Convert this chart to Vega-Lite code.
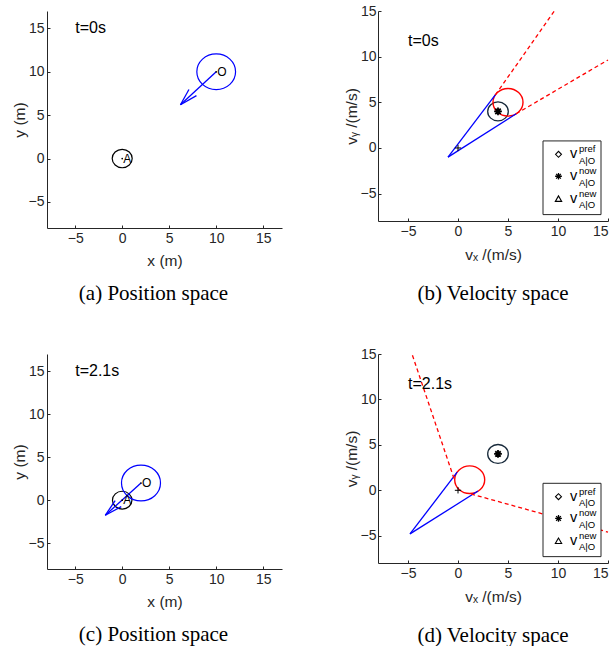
{
  "$schema": "https://vega.github.io/schema/vega-lite/v6.json",
  "padding": {"left": 12, "top": 4, "right": 0, "bottom": 0},
  "columns": 2,
  "spacing": {"row": 126, "column": 96},
  "bounds": "flush",
  "config": {
    "view": {"stroke": null},
    "font": "Liberation Sans",
    "axis": {"grid": false, "domainColor": "#262626", "domainWidth": 1, "tickColor": "#262626", "tickSize": -3, "labelColor": "#262626", "labelFontSize": 14, "labelFont": "Liberation Sans", "titleFont": "Liberation Sans", "titleFontSize": 15.5, "titleFontWeight": "normal", "titleColor": "#262626", "labelPadding": 6},
    "axisY": {"titlePadding": 1},
    "axisX": {"titlePadding": 8},
    "title": {"font": "Liberation Serif", "fontSize": 21, "fontWeight": "normal", "color": "#000000", "orient": "bottom", "anchor": "middle"}
  },
  "concat": [
    {
      "width": 235, "height": 217,
      "title": {"text": "(a)  Position space", "offset": 14, "dx": -11},
      "layer": [
        {
          "data": {"values": [{"agent": "A", "x": 0, "y": 0}]},
          "mark": {"type": "point", "shape": "M1,0C1,0.508 0.552,0.92 0,0.92C-0.552,0.92 -1,0.508 -1,0C-1,-0.508 -0.552,-0.92 0,-0.92C0.552,-0.92 1,-0.508 1,0Z", "filled": false, "strokeWidth": 1.2, "opacity": 1, "color": "#000000", "size": 400},
          "encoding": {
            "x": {"field": "x", "type": "quantitative", "scale": {"domain": [-8, 17], "nice": false, "zero": false}, "axis": {"values": [-5, 0, 5, 10, 15], "title": "x (m)"}},
            "y": {"field": "y", "type": "quantitative", "scale": {"domain": [-8, 17], "nice": false, "zero": false}, "axis": {"values": [-5, 0, 5, 10, 15], "title": "y (m)"}}
          }
        },
        {
          "data": {"values": [{"agent": "O", "x": 10, "y": 10}]},
          "mark": {"type": "point", "shape": "M1,0C1,0.508 0.552,0.92 0,0.92C-0.552,0.92 -1,0.508 -1,0C-1,-0.508 -0.552,-0.92 0,-0.92C0.552,-0.92 1,-0.508 1,0Z", "filled": false, "strokeWidth": 1.2, "opacity": 1, "color": "#0000ff", "size": 1500},
          "encoding": {"x": {"field": "x", "type": "quantitative"}, "y": {"field": "y", "type": "quantitative"}}
        },
        {
          "data": {"values": [{"part": "shaft", "x": 10, "y": 10, "x2": 6.2, "y2": 6.2}, {"part": "barb", "x": 6.2, "y": 6.2, "x2": 7.9, "y2": 7.25}, {"part": "barb", "x": 6.2, "y": 6.2, "x2": 7.1, "y2": 7.95}]},
          "mark": {"type": "rule", "color": "#0000ff", "strokeWidth": 1.3},
          "encoding": {"x": {"field": "x", "type": "quantitative"}, "y": {"field": "y", "type": "quantitative"}, "x2": {"field": "x2"}, "y2": {"field": "y2"}}
        },
        {
          "data": {"values": [{"agent": "A", "x": 0, "y": 0}, {"agent": "O", "x": 10, "y": 10}]},
          "layer": [
            {"mark": {"type": "point", "shape": "circle", "filled": true, "size": 3, "color": "#000000", "opacity": 1},
             "encoding": {"x": {"field": "x", "type": "quantitative"}, "y": {"field": "y", "type": "quantitative"}}},
            {"mark": {"type": "text", "align": "left", "baseline": "middle", "fontSize": 12, "dx": 1, "color": "#000000"},
             "encoding": {"x": {"field": "x", "type": "quantitative"}, "y": {"field": "y", "type": "quantitative"}, "text": {"field": "agent"}}}
          ]
        },
        {
          "data": {"values": [{"label": "t=0s", "x": -5, "y": 15}]},
          "mark": {"type": "text", "align": "left", "baseline": "middle", "fontSize": 16, "color": "#000000"},
          "encoding": {"x": {"field": "x", "type": "quantitative"}, "y": {"field": "y", "type": "quantitative"}, "text": {"field": "label"}}
        }
      ]
    },
    {
      "width": 230, "height": 210,
      "title": {"text": "(b)  Velocity space", "offset": 20},
      "layer": [
        {
          "data": {"values": [{"circle": "A", "x": 4, "y": 4}]},
          "mark": {"type": "point", "shape": "M1,0C1,0.508 0.552,0.92 0,0.92C-0.552,0.92 -1,0.508 -1,0C-1,-0.508 -0.552,-0.92 0,-0.92C0.552,-0.92 1,-0.508 1,0Z", "filled": false, "strokeWidth": 1.3, "opacity": 1, "color": "#17293a", "size": 424},
          "encoding": {
            "x": {"field": "x", "type": "quantitative", "scale": {"domain": [-8, 15], "nice": false, "zero": false}, "axis": {"values": [-5, 0, 5, 10, 15], "title": "vₓ /(m/s)", "titlePadding": 9}},
            "y": {"field": "y", "type": "quantitative", "scale": {"domain": [-8, 15], "nice": false, "zero": false}, "axis": {"values": [-5, 0, 5, 10, 15], "title": "vᵧ /(m/s)", "labelPadding": 5, "titlePadding": 1}}
          }
        },
        {
          "data": {"values": [{"circle": "VO", "x": 5, "y": 5}]},
          "mark": {"type": "point", "shape": "M1,0C1,0.508 0.552,0.92 0,0.92C-0.552,0.92 -1,0.508 -1,0C-1,-0.508 -0.552,-0.92 0,-0.92C0.552,-0.92 1,-0.508 1,0Z", "filled": false, "strokeWidth": 1.4, "opacity": 1, "color": "#ff0000", "size": 900},
          "encoding": {"x": {"field": "x", "type": "quantitative"}, "y": {"field": "y", "type": "quantitative"}}
        },
        {
          "data": {"values": [{"x": -1, "y": -1, "x2": 3.77, "y2": 5.86}, {"x": -1, "y": -1, "x2": 5.86, "y2": 3.77}]},
          "mark": {"type": "rule", "color": "#0000ff", "strokeWidth": 1.3},
          "encoding": {"x": {"field": "x", "type": "quantitative"}, "y": {"field": "y", "type": "quantitative"}, "x2": {"field": "x2"}, "y2": {"field": "y2"}}
        },
        {
          "data": {"values": [{"x": 3.74, "y": 5.81, "x2": 9.64, "y2": 15}, {"x": 5.81, "y": 3.74, "x2": 15, "y2": 9.64}]},
          "mark": {"type": "rule", "color": "#ff0000", "strokeWidth": 1.3, "strokeDash": [4, 3]},
          "encoding": {"x": {"field": "x", "type": "quantitative"}, "y": {"field": "y", "type": "quantitative"}, "x2": {"field": "x2"}, "y2": {"field": "y2"}}
        },
        {
          "data": {"values": [{"v": "now", "x": 4, "y": 4}]},
          "mark": {"type": "point", "shape": "M-1,0L1,0M0,-1L0,1M-0.7,-0.7L0.7,0.7M-0.7,0.7L0.7,-0.7", "filled": false, "size": 60, "strokeWidth": 1.8, "color": "#000000", "opacity": 1},
          "encoding": {"x": {"field": "x", "type": "quantitative"}, "y": {"field": "y", "type": "quantitative"}}
        },
        {
          "data": {"values": [{"v": "origin", "x": 0, "y": 0}]},
          "mark": {"type": "point", "shape": "M-1,0L1,0M0,-1L0,1", "filled": false, "size": 40, "strokeWidth": 1, "color": "#000000", "opacity": 1},
          "encoding": {"x": {"field": "x", "type": "quantitative"}, "y": {"field": "y", "type": "quantitative"}}
        },
        {
          "data": {"values": [{"label": "t=0s", "x": -5, "y": 11.7}]},
          "mark": {"type": "text", "align": "left", "baseline": "middle", "fontSize": 16, "color": "#000000"},
          "encoding": {"x": {"field": "x", "type": "quantitative"}, "y": {"field": "y", "type": "quantitative"}, "text": {"field": "label"}}
        },
        {
          "data": {"values": [{"x": 8.5, "x2": 14.3, "y": 0.77, "y2": -7.3}]},
          "mark": {"type": "rect", "fill": "#ffffff", "stroke": "#262626", "strokeWidth": 1},
          "encoding": {"x": {"field": "x", "type": "quantitative"}, "x2": {"field": "x2"}, "y": {"field": "y", "type": "quantitative"}, "y2": {"field": "y2"}}
        },
        {
          "data": {"values": [{"key": "pref", "y": -0.7}, {"key": "now", "y": -3.1}, {"key": "new", "y": -5.55}]},
          "layer": [
            {"transform": [{"filter": "datum.key == 'pref'"}],
             "mark": {"type": "point", "shape": "diamond", "filled": false, "size": 35, "strokeWidth": 1.1, "color": "#000000", "opacity": 1},
             "encoding": {"x": {"datum": 10.05, "type": "quantitative"}, "y": {"field": "y", "type": "quantitative"}}},
            {"transform": [{"filter": "datum.key == 'now'"}],
             "mark": {"type": "point", "shape": "M-1,0L1,0M0,-1L0,1M-0.7,-0.7L0.7,0.7M-0.7,0.7L0.7,-0.7", "filled": false, "size": 45, "strokeWidth": 1.3, "color": "#000000", "opacity": 1},
             "encoding": {"x": {"datum": 10.05, "type": "quantitative"}, "y": {"field": "y", "type": "quantitative"}}},
            {"transform": [{"filter": "datum.key == 'new'"}],
             "mark": {"type": "point", "shape": "triangle-up", "filled": false, "size": 40, "strokeWidth": 1.1, "color": "#000000", "opacity": 1},
             "encoding": {"x": {"datum": 10.05, "type": "quantitative"}, "y": {"field": "y", "type": "quantitative"}}},
            {"mark": {"type": "text", "text": "v", "align": "left", "baseline": "middle", "fontSize": 14.5, "color": "#000000"},
             "encoding": {"x": {"datum": 11.2, "type": "quantitative"}, "y": {"field": "y", "type": "quantitative"}}},
            {"mark": {"type": "text", "align": "left", "baseline": "middle", "fontSize": 9.5, "dy": -5, "color": "#000000"},
             "encoding": {"x": {"datum": 12.1, "type": "quantitative"}, "y": {"field": "y", "type": "quantitative"}, "text": {"field": "key"}}},
            {"mark": {"type": "text", "text": "A|O", "align": "left", "baseline": "middle", "fontSize": 9.5, "dy": 6.5, "color": "#000000"},
             "encoding": {"x": {"datum": 12.1, "type": "quantitative"}, "y": {"field": "y", "type": "quantitative"}}}
          ]
        }
      ]
    },
    {
      "width": 235, "height": 215,
      "title": {"text": "(c)  Position space", "offset": 14, "dx": -11},
      "layer": [
        {
          "data": {"values": [{"agent": "A", "x": 0, "y": 0}]},
          "mark": {"type": "point", "shape": "M1,0C1,0.508 0.552,0.92 0,0.92C-0.552,0.92 -1,0.508 -1,0C-1,-0.508 -0.552,-0.92 0,-0.92C0.552,-0.92 1,-0.508 1,0Z", "filled": false, "strokeWidth": 1.2, "opacity": 1, "color": "#000000", "size": 380},
          "encoding": {
            "x": {"field": "x", "type": "quantitative", "scale": {"domain": [-8, 17], "nice": false, "zero": false}, "axis": {"values": [-5, 0, 5, 10, 15], "title": "x (m)"}},
            "y": {"field": "y", "type": "quantitative", "scale": {"domain": [-8, 17], "nice": false, "zero": false}, "axis": {"values": [-5, 0, 5, 10, 15], "title": "y (m)"}}
          }
        },
        {
          "data": {"values": [{"agent": "O", "x": 2, "y": 2}]},
          "mark": {"type": "point", "shape": "M1,0C1,0.508 0.552,0.92 0,0.92C-0.552,0.92 -1,0.508 -1,0C-1,-0.508 -0.552,-0.92 0,-0.92C0.552,-0.92 1,-0.508 1,0Z", "filled": false, "strokeWidth": 1.2, "opacity": 1, "color": "#0000ff", "size": 1521},
          "encoding": {"x": {"field": "x", "type": "quantitative"}, "y": {"field": "y", "type": "quantitative"}}
        },
        {
          "data": {"values": [{"part": "shaft", "x": 2, "y": 2, "x2": -1.8, "y2": -1.75}, {"part": "barb", "x": -1.8, "y": -1.75, "x2": -0.75, "y2": -0.05}, {"part": "barb", "x": -1.8, "y": -1.75, "x2": -0.1, "y2": -0.75}]},
          "mark": {"type": "rule", "color": "#0000ff", "strokeWidth": 1.3},
          "encoding": {"x": {"field": "x", "type": "quantitative"}, "y": {"field": "y", "type": "quantitative"}, "x2": {"field": "x2"}, "y2": {"field": "y2"}}
        },
        {
          "data": {"values": [{"agent": "A", "x": 0, "y": 0}, {"agent": "O", "x": 2, "y": 2}]},
          "layer": [
            {"mark": {"type": "point", "shape": "circle", "filled": true, "size": 3, "color": "#000000", "opacity": 1},
             "encoding": {"x": {"field": "x", "type": "quantitative"}, "y": {"field": "y", "type": "quantitative"}}},
            {"mark": {"type": "text", "align": "left", "baseline": "middle", "fontSize": 12, "dx": 1, "color": "#000000"},
             "encoding": {"x": {"field": "x", "type": "quantitative"}, "y": {"field": "y", "type": "quantitative"}, "text": {"field": "agent"}}}
          ]
        },
        {
          "data": {"values": [{"label": "t=2.1s", "x": -5, "y": 15}]},
          "mark": {"type": "text", "align": "left", "baseline": "middle", "fontSize": 16, "color": "#000000"},
          "encoding": {"x": {"field": "x", "type": "quantitative"}, "y": {"field": "y", "type": "quantitative"}, "text": {"field": "label"}}
        }
      ]
    },
    {
      "width": 230, "height": 209,
      "title": {"text": "(d)  Velocity space", "offset": 20},
      "layer": [
        {
          "data": {"values": [{"circle": "A", "x": 4, "y": 4}]},
          "mark": {"type": "point", "shape": "M1,0C1,0.508 0.552,0.92 0,0.92C-0.552,0.92 -1,0.508 -1,0C-1,-0.508 -0.552,-0.92 0,-0.92C0.552,-0.92 1,-0.508 1,0Z", "filled": false, "strokeWidth": 1.3, "opacity": 1, "color": "#17293a", "size": 424},
          "encoding": {
            "x": {"field": "x", "type": "quantitative", "scale": {"domain": [-8, 15], "nice": false, "zero": false}, "axis": {"values": [-5, 0, 5, 10, 15], "title": "vₓ /(m/s)", "titlePadding": 9}},
            "y": {"field": "y", "type": "quantitative", "scale": {"domain": [-8, 15], "nice": false, "zero": false}, "axis": {"values": [-5, 0, 5, 10, 15], "title": "vᵧ /(m/s)", "labelPadding": 5, "titlePadding": 1}}
          }
        },
        {
          "data": {"values": [{"circle": "VO", "x": 1.17, "y": 1.17}]},
          "mark": {"type": "point", "shape": "M1,0C1,0.508 0.552,0.92 0,0.92C-0.552,0.92 -1,0.508 -1,0C-1,-0.508 -0.552,-0.92 0,-0.92C0.552,-0.92 1,-0.508 1,0Z", "filled": false, "strokeWidth": 1.4, "opacity": 1, "color": "#ff0000", "size": 900},
          "encoding": {"x": {"field": "x", "type": "quantitative"}, "y": {"field": "y", "type": "quantitative"}}
        },
        {
          "data": {"values": [{"x": -4.8, "y": -4.8, "x2": -0.08, "y2": 2.0}, {"x": -4.8, "y": -4.8, "x2": 2.0, "y2": -0.08}]},
          "mark": {"type": "rule", "color": "#0000ff", "strokeWidth": 1.3},
          "encoding": {"x": {"field": "x", "type": "quantitative"}, "y": {"field": "y", "type": "quantitative"}, "x2": {"field": "x2"}, "y2": {"field": "y2"}}
        },
        {
          "data": {"values": [{"x": -0.4, "y": 1.3, "x2": -4.6, "y2": 15}, {"x": 1.3, "y": -0.4, "x2": 15, "y2": -4.6}]},
          "mark": {"type": "rule", "color": "#ff0000", "strokeWidth": 1.3, "strokeDash": [4, 3]},
          "encoding": {"x": {"field": "x", "type": "quantitative"}, "y": {"field": "y", "type": "quantitative"}, "x2": {"field": "x2"}, "y2": {"field": "y2"}}
        },
        {
          "data": {"values": [{"v": "now", "x": 4, "y": 4}]},
          "mark": {"type": "point", "shape": "M-1,0L1,0M0,-1L0,1M-0.7,-0.7L0.7,0.7M-0.7,0.7L0.7,-0.7", "filled": false, "size": 60, "strokeWidth": 1.8, "color": "#000000", "opacity": 1},
          "encoding": {"x": {"field": "x", "type": "quantitative"}, "y": {"field": "y", "type": "quantitative"}}
        },
        {
          "data": {"values": [{"v": "origin", "x": 0, "y": 0}]},
          "mark": {"type": "point", "shape": "M-1,0L1,0M0,-1L0,1", "filled": false, "size": 40, "strokeWidth": 1, "color": "#000000", "opacity": 1},
          "encoding": {"x": {"field": "x", "type": "quantitative"}, "y": {"field": "y", "type": "quantitative"}}
        },
        {
          "data": {"values": [{"label": "t=2.1s", "x": -5, "y": 11.7}]},
          "mark": {"type": "text", "align": "left", "baseline": "middle", "fontSize": 16, "color": "#000000"},
          "encoding": {"x": {"field": "x", "type": "quantitative"}, "y": {"field": "y", "type": "quantitative"}, "text": {"field": "label"}}
        },
        {
          "data": {"values": [{"x": 8.5, "x2": 14.3, "y": 0.77, "y2": -7.3}]},
          "mark": {"type": "rect", "fill": "#ffffff", "stroke": "#262626", "strokeWidth": 1},
          "encoding": {"x": {"field": "x", "type": "quantitative"}, "x2": {"field": "x2"}, "y": {"field": "y", "type": "quantitative"}, "y2": {"field": "y2"}}
        },
        {
          "data": {"values": [{"key": "pref", "y": -0.7}, {"key": "now", "y": -3.1}, {"key": "new", "y": -5.55}]},
          "layer": [
            {"transform": [{"filter": "datum.key == 'pref'"}],
             "mark": {"type": "point", "shape": "diamond", "filled": false, "size": 35, "strokeWidth": 1.1, "color": "#000000", "opacity": 1},
             "encoding": {"x": {"datum": 10.05, "type": "quantitative"}, "y": {"field": "y", "type": "quantitative"}}},
            {"transform": [{"filter": "datum.key == 'now'"}],
             "mark": {"type": "point", "shape": "M-1,0L1,0M0,-1L0,1M-0.7,-0.7L0.7,0.7M-0.7,0.7L0.7,-0.7", "filled": false, "size": 45, "strokeWidth": 1.3, "color": "#000000", "opacity": 1},
             "encoding": {"x": {"datum": 10.05, "type": "quantitative"}, "y": {"field": "y", "type": "quantitative"}}},
            {"transform": [{"filter": "datum.key == 'new'"}],
             "mark": {"type": "point", "shape": "triangle-up", "filled": false, "size": 40, "strokeWidth": 1.1, "color": "#000000", "opacity": 1},
             "encoding": {"x": {"datum": 10.05, "type": "quantitative"}, "y": {"field": "y", "type": "quantitative"}}},
            {"mark": {"type": "text", "text": "v", "align": "left", "baseline": "middle", "fontSize": 14.5, "color": "#000000"},
             "encoding": {"x": {"datum": 11.2, "type": "quantitative"}, "y": {"field": "y", "type": "quantitative"}}},
            {"mark": {"type": "text", "align": "left", "baseline": "middle", "fontSize": 9.5, "dy": -5, "color": "#000000"},
             "encoding": {"x": {"datum": 12.1, "type": "quantitative"}, "y": {"field": "y", "type": "quantitative"}, "text": {"field": "key"}}},
            {"mark": {"type": "text", "text": "A|O", "align": "left", "baseline": "middle", "fontSize": 9.5, "dy": 6.5, "color": "#000000"},
             "encoding": {"x": {"datum": 12.1, "type": "quantitative"}, "y": {"field": "y", "type": "quantitative"}}}
          ]
        }
      ]
    }
  ]
}
